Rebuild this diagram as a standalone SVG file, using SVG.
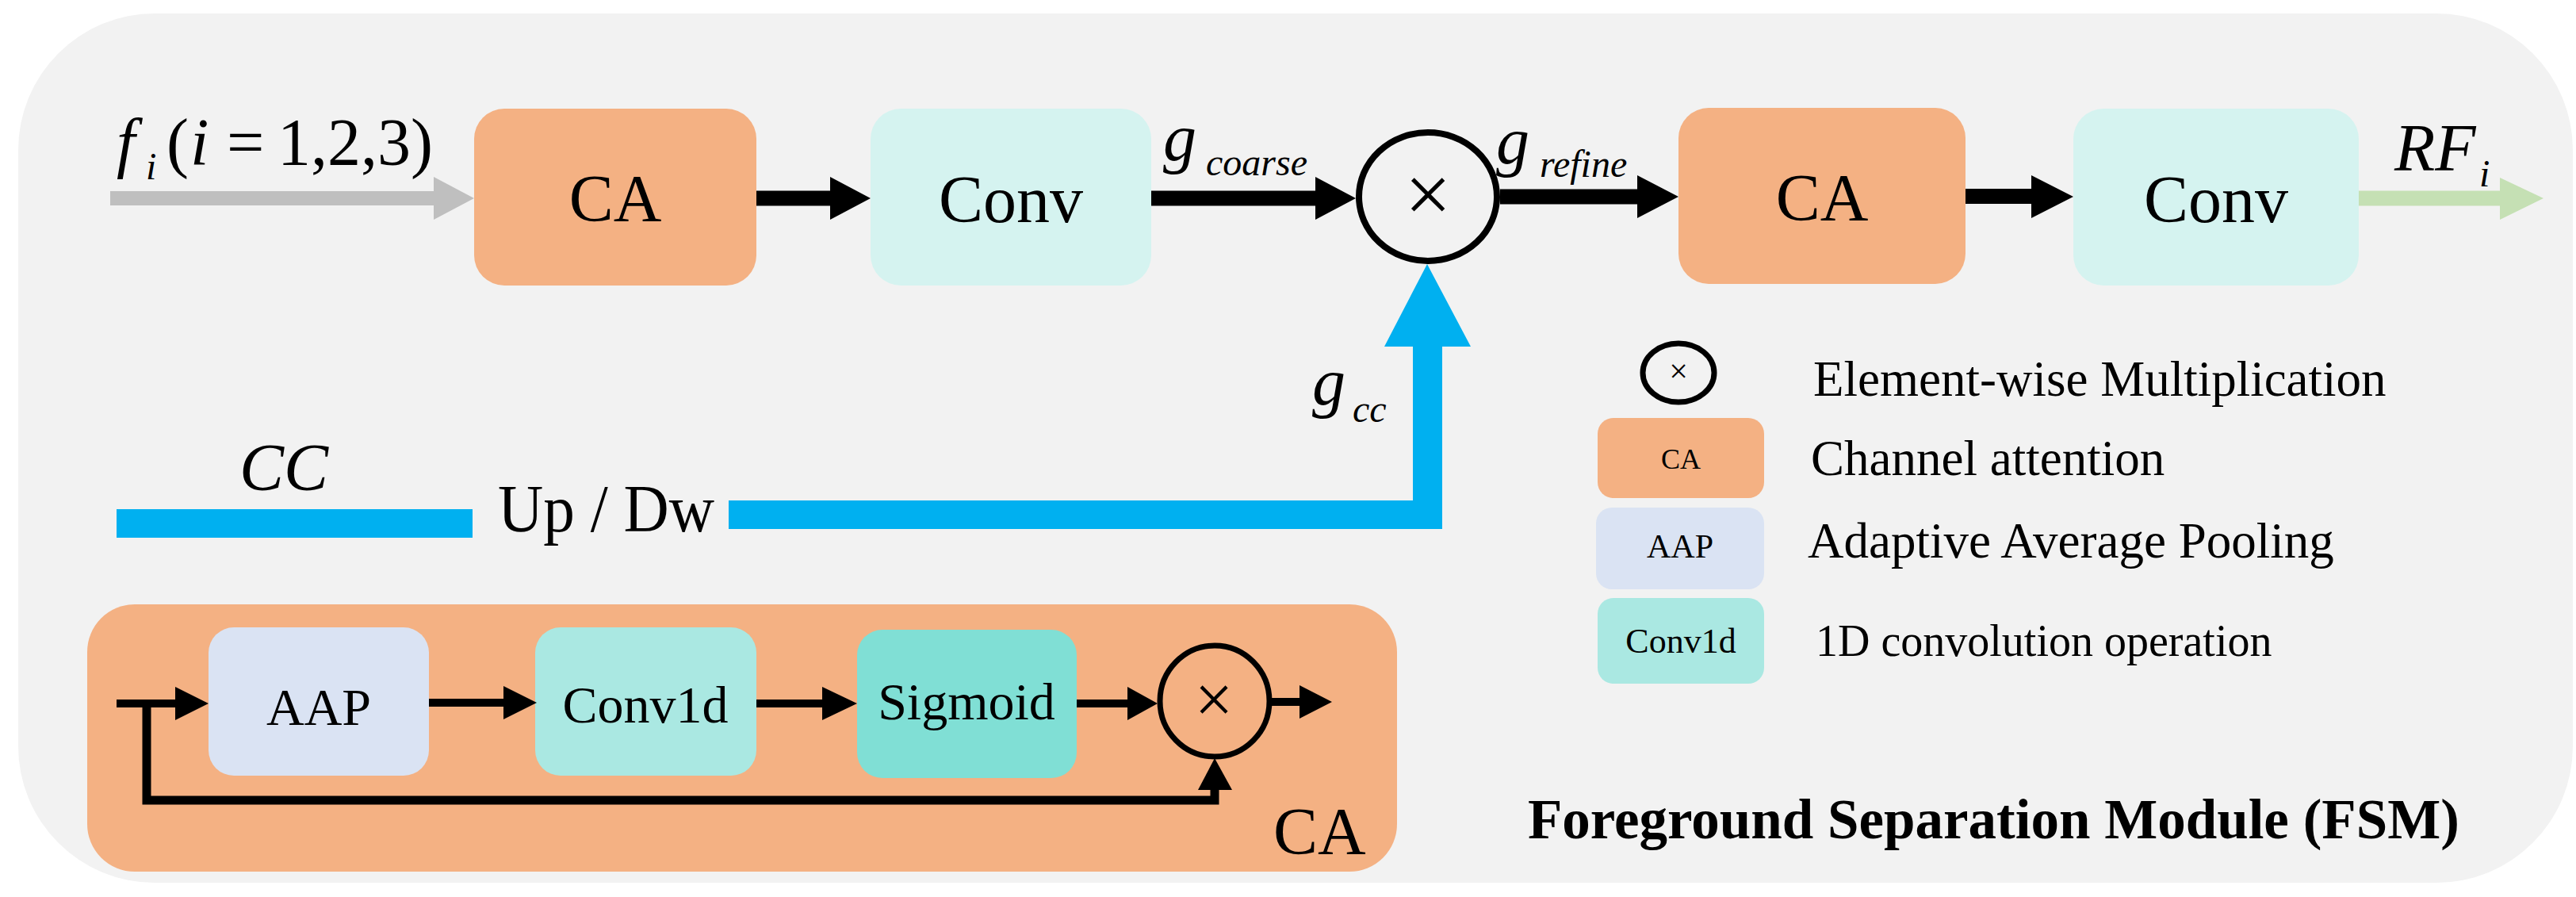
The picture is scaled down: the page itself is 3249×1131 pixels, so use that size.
<svg xmlns="http://www.w3.org/2000/svg" width="3249" height="1131" viewBox="0 0 3249 1131">
<style>
text{font-family:"Liberation Serif","Times New Roman",serif;fill:#000}
.it{font-style:italic}
.ca{fill:#f4b183}
.conv{fill:#d5f3f0}
.aap{fill:#dae3f3}
.c1d{fill:#aae8e2}
.sig{fill:#80dfd5}
.blk{fill:#000}
.mul{fill:none;stroke:#000}
</style>
<rect x="0" y="0" width="3249" height="1131" fill="#fff"/>
<rect id="panel" x="23" y="17" width="3222" height="1096" rx="172" ry="172" fill="#f2f2f2"/>

<g id="ca1"><rect class="ca" x="598" y="137" width="356" height="223" rx="38"/><text x="776" y="279" font-size="84" text-anchor="middle">CA</text></g>
<g id="conv1"><rect class="conv" x="1098" y="137" width="354" height="223" rx="38"/><text x="1275" y="280" font-size="84" text-anchor="middle">Conv</text></g>
<g id="mul1"><ellipse class="mul" cx="1801" cy="248" rx="87" ry="81" stroke-width="8"/><text x="1801" y="280" font-size="104" text-anchor="middle">×</text></g>
<g id="ca2"><rect class="ca" x="2117" y="136" width="362" height="222" rx="38"/><text x="2298" y="278" font-size="84" text-anchor="middle">CA</text></g>
<g id="conv2"><rect class="conv" x="2615" y="137" width="360" height="223" rx="38"/><text x="2795" y="280" font-size="84" text-anchor="middle">Conv</text></g>

<g id="labels">
<text class="it" x="147" y="208" font-size="84">f</text>
<text class="it" x="184" y="226" font-size="48">i</text>
<text x="210" y="208" font-size="84">(</text>
<text class="it" x="240" y="208" font-size="84">i</text>
<text x="286" y="208" font-size="84">=</text>
<text x="350" y="208" font-size="84">1,2,3)</text>
<text class="it" x="1467" y="202" font-size="84">g</text>
<text class="it" x="1521" y="221" font-size="48">coarse</text>
<text class="it" x="1887" y="206" font-size="84">g</text>
<text class="it" x="1942" y="223" font-size="48">refine</text>
<text class="it" x="3020" y="215" font-size="84">RF</text>
<text class="it" x="3127" y="235" font-size="48">i</text>
<text class="it" x="302" y="618" font-size="84">CC</text>
<text x="628" y="670" font-size="84" textLength="273" lengthAdjust="spacingAndGlyphs">Up / Dw</text>
<text class="it" x="1655" y="510" font-size="84">g</text>
<text class="it" x="1706" y="532" font-size="48">cc</text>
</g>

<g id="ca-panel">
<rect class="ca" x="110" y="762" width="1652" height="337" rx="60"/>
<text x="1606" y="1077" font-size="84">CA</text>
</g>
<g id="aap"><rect class="aap" x="263" y="791" width="278" height="187" rx="32"/><text x="402" y="914" font-size="66" text-anchor="middle">AAP</text></g>
<g id="conv1d"><rect class="c1d" x="675" y="791" width="279" height="187" rx="32"/><text x="814" y="911" font-size="66" text-anchor="middle">Conv1d</text></g>
<g id="sigmoid"><rect class="sig" x="1081" y="794" width="277" height="187" rx="32"/><text x="1219" y="907" font-size="66" text-anchor="middle">Sigmoid</text></g>
<g id="mul2"><ellipse class="mul" cx="1532" cy="884" rx="69" ry="70" stroke-width="7"/><text x="1531" y="911" font-size="86" text-anchor="middle">×</text></g>

<g id="connectors">
<polygon fill="#bfbfbf" points="139,241 547,241 547,223 598,250 547,277 547,259 139,259"/>
<polygon class="blk" points="954,240.5 1047,240.5 1047,223 1098,250 1047,277 1047,259.5 954,259.5"/>
<polygon class="blk" points="1452,240.5 1659,240.5 1659,223 1710,250 1659,277 1659,259.5 1452,259.5"/>
<polygon class="blk" points="1892,238.5 2065,238.5 2065,221 2117,248 2065,275 2065,257.5 1892,257.5"/>
<polygon class="blk" points="2479,238 2562,238 2562,221 2615,248 2562,275 2562,257 2479,257"/>
<polygon fill="#c5e0b4" points="2975,240.5 3153,240.5 3153,224 3208,250 3153,277 3153,259.5 2975,259.5"/>
<rect fill="#00b0f0" x="147" y="642" width="449" height="36"/>
<polygon fill="#00b0f0" points="919,631 1782,631 1782,437 1746,437 1800,333 1855,437 1819,437 1819,667 919,667"/>
<polygon class="blk" points="147,882 221,882 221,866 263,887 221,908 221,892 147,892"/>
<polyline fill="none" stroke="#000" stroke-width="11" points="185,887 185,1009 1532,1009 1532,994"/>
<polygon class="blk" points="1511,996 1554,996 1532,956"/>
<polygon class="blk" points="541,881 635,881 635,865 677,886 635,907 635,891 541,891"/>
<polygon class="blk" points="954,882 1037,882 1037,866 1081,887 1037,908 1037,892 954,892"/>
<polygon class="blk" points="1358,882 1422,882 1422,866 1460,887 1422,908 1422,892 1358,892"/>
<polygon class="blk" points="1604,880 1639,880 1639,864 1680,885 1639,906 1639,890 1604,890"/>
</g>

<g id="legend">
<g id="leg-mul"><ellipse class="mul" cx="2117" cy="470" rx="45" ry="37" stroke-width="7"/><text x="2117" y="482" font-size="42" text-anchor="middle">×</text></g>
<text x="2287" y="499" font-size="63">Element-wise Multiplication</text>
<g id="leg-ca"><rect class="ca" x="2015" y="527" width="210" height="101" rx="20"/><text x="2120" y="591" font-size="36" text-anchor="middle">CA</text></g>
<text x="2284" y="599" font-size="63">Channel attention</text>
<g id="leg-aap"><rect class="aap" x="2013" y="640" width="212" height="103" rx="20"/><text x="2119" y="703" font-size="42" text-anchor="middle">AAP</text></g>
<text x="2280" y="703" font-size="63">Adaptive Average Pooling</text>
<g id="leg-c1d"><rect class="c1d" x="2015" y="754" width="210" height="108" rx="20"/><text x="2120" y="823" font-size="44" text-anchor="middle">Conv1d</text></g>
<text x="2290" y="827" font-size="56">1D convolution operation</text>
</g>

<text x="1927" y="1057" font-size="71" font-weight="bold">Foreground Separation Module (FSM)</text>
</svg>
